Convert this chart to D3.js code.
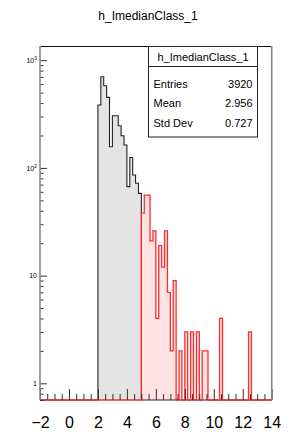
<!DOCTYPE html>
<html>

<head>
    <meta charset="utf-8">
    <style>
        body {
            margin: 0;
            background: #fff;
            font-family: 'Liberation Sans', Arial, sans-serif;
        }

        svg {
            display: block;
        }

        .axis .domain {
            display: none;
        }

        .axis .tick line {
            stroke: #333;
        }

        .x .tick text {
            font-size: 16px;
            fill: #000;
        }

        .y .tick text {
            font-size: 7px;
            fill: #000;
        }

        .stats text {
            font-size: 11px;
            fill: #000;
        }
    </style>
</head>

<body>
    <svg width="308" height="440"></svg>
</body>

<script src="https://d3js.org/d3.v7.min.js"></script>

<script>
    // histogram: 80 bins of 0.2 from -2 to 14
    let xMin = -2;
    let xMax = 14;
    let binWidth = 0.2;

    // black part, bins starting at 2.0
    let blackStart = 2.0;
    let blackCounts = [384, 703, 580, 452, 157, 305, 305, 246, 199, 163, 67, 125, 86, 72, 58];

    // red part, bins starting at 5.0
    let redStart = 5.0;
    let redCounts = [38, 56, 56, 21, 26, 4, 19, 12, 26, 7, 2, 9, 0, 2, 0, 3, 0, 3, 0, 3,
        0, 2, 2, 0, 0, 0, 0, 4, 0, 0, 0, 0, 0, 0, 0, 0, 0, 3];

    let xTickLabels = [-2, 0, 2, 4, 6, 8, 10, 12, 14];
    let yTickLabels = [1, 10, 100, 1000];

    let statsTitle = "h_ImedianClass_1";
    let statsNames = ["Entries", "Mean", "Std Dev"];
    let statsValues = ["3920", "2.956", "0.727"];

    let svg = d3.select("svg");

    let padL = 40, padR = 271.7, padT = 46, padB = 400;

    let x = d3.scaleLinear()
        .domain([xMin, xMax])
        .range([padL, padR]);

    let y = d3.scaleLog()
        .domain([0.7, 1355])
        .range([padB, padT]);

    let nBins = Math.round((xMax - xMin) / binWidth);

    // fill all 80 bins, zero where the part has no entries
    function fullBins(start, counts) {
        let out = [];
        let first = Math.round((start - xMin) / binWidth);
        for (let i = 0; i < nBins; i++) {
            let v = (i >= first && i - first < counts.length) ? counts[i - first] : 0;
            out.push({ x0: xMin + i * binWidth, x1: xMin + (i + 1) * binWidth, v: v });
        }
        return out;
    }

    function yv(v) {
        return v > 0 ? y(v) : padB;
    }

    function stepPath(bins) {
        let p = d3.path();
        p.moveTo(x(bins[0].x0), padB);
        bins.forEach(b => {
            p.lineTo(x(b.x0), yv(b.v));
            p.lineTo(x(b.x1), yv(b.v));
        });
        p.lineTo(x(bins[bins.length - 1].x1), padB);
        return p.toString();
    }

    let blackBins = fullBins(blackStart, blackCounts);
    let redBins = fullBins(redStart, redCounts);

    svg.append("clipPath").attr("id", "frame")
        .append("rect")
        .attr("x", padL - 1).attr("y", padT)
        .attr("width", padR - padL + 2).attr("height", padB - padT + 1);

    let plot = svg.append("g").attr("clip-path", "url(#frame)");

    plot.append("path")
        .attr("d", stepPath(blackBins))
        .attr("fill", "#e4e4e4")
        .attr("stroke", "#222")
        .attr("stroke-width", 1.1);

    plot.append("path")
        .attr("d", stepPath(redBins))
        .attr("fill", "rgba(255,0,0,0.11)")
        .attr("stroke", "#ff2a2a")
        .attr("stroke-width", 1.3);

    // x axis, ticks pointing up
    let xMinor = d3.range(xMin, xMax + 0.001, 0.5).filter(d => xTickLabels.indexOf(d) < 0);

    svg.append("g")
        .attr("class", "x axis")
        .attr("transform", `translate(0,${padB})`)
        .call(d3.axisBottom(x).tickValues(xMinor).tickSize(-6).tickFormat(""));

    svg.append("g")
        .attr("class", "x axis")
        .attr("transform", `translate(0,${padB})`)
        .call(d3.axisBottom(x)
            .tickValues(xTickLabels)
            .tickSize(-11)
            .tickPadding(17)
            .tickFormat(d => d < 0 ? "\u2212" + Math.abs(d) : d));

    // y axis, log ticks pointing right
    let yMinor = [];
    [0.1, 1, 10, 100, 1000].forEach(dec => {
        for (let k = 2; k <= 9; k++) {
            let v = dec * k;
            if (v >= 0.7 && v <= 1355) yMinor.push(v);
        }
    });

    svg.append("g")
        .attr("class", "y axis")
        .attr("transform", `translate(${padL},0)`)
        .call(d3.axisLeft(y).tickValues(yMinor).tickSize(-3.5).tickFormat(""));

    svg.append("g")
        .attr("class", "y axis")
        .attr("transform", `translate(${padL},0)`)
        .call(d3.axisLeft(y)
            .tickValues(yTickLabels)
            .tickSize(-7)
            .tickPadding(3)
            .tickFormat(""))
        .call(g => g.selectAll(".tick text").each(function (d) {
            let t = d3.select(this);
            if (d < 100) {
                t.text(d);
            } else {
                t.append("tspan").text("10");
                t.append("tspan")
                    .attr("font-size", "5px")
                    .attr("dy", "-3")
                    .text(Math.round(Math.log10(d)));
            }
        }));

    // frame
    svg.append("line").attr("x1", padL).attr("x2", padR).attr("y1", padT + 0.5).attr("y2", padT + 0.5)
        .attr("stroke", "#111").attr("stroke-width", 1);
    svg.append("line").attr("x1", padL).attr("x2", padL).attr("y1", padT).attr("y2", padB)
        .attr("stroke", "#888").attr("stroke-width", 1.6);
    svg.append("line").attr("x1", padR).attr("x2", padR).attr("y1", padT).attr("y2", padB)
        .attr("stroke", "#888").attr("stroke-width", 1.6);

    // title
    svg.append("text")
        .attr("x", 148)
        .attr("y", 20)
        .attr("text-anchor", "middle")
        .style("font-size", "12px")
        .text(statsTitle);

    // stats box
    let bx = 148.5, bw = 109, by = 46.5, bh = 90.5;
    let stats = svg.append("g").attr("class", "stats");

    stats.append("rect")
        .attr("x", bx).attr("y", by)
        .attr("width", bw).attr("height", bh)
        .attr("fill", "#fff")
        .attr("stroke", "#222")
        .attr("stroke-width", 1);

    stats.append("line")
        .attr("x1", bx).attr("x2", bx + bw)
        .attr("y1", 66.5).attr("y2", 66.5)
        .attr("stroke", "#222");

    stats.append("text")
        .attr("x", bx + bw / 2)
        .attr("y", 61)
        .attr("text-anchor", "middle")
        .text(statsTitle);

    statsNames.forEach((n, i) => {
        stats.append("text")
            .attr("x", 153.5)
            .attr("y", 87.5 + i * 19.5)
            .text(n);
        stats.append("text")
            .attr("x", 252.5)
            .attr("y", 87.5 + i * 19.5)
            .attr("text-anchor", "end")
            .text(statsValues[i]);
    });
</script>

</html>
